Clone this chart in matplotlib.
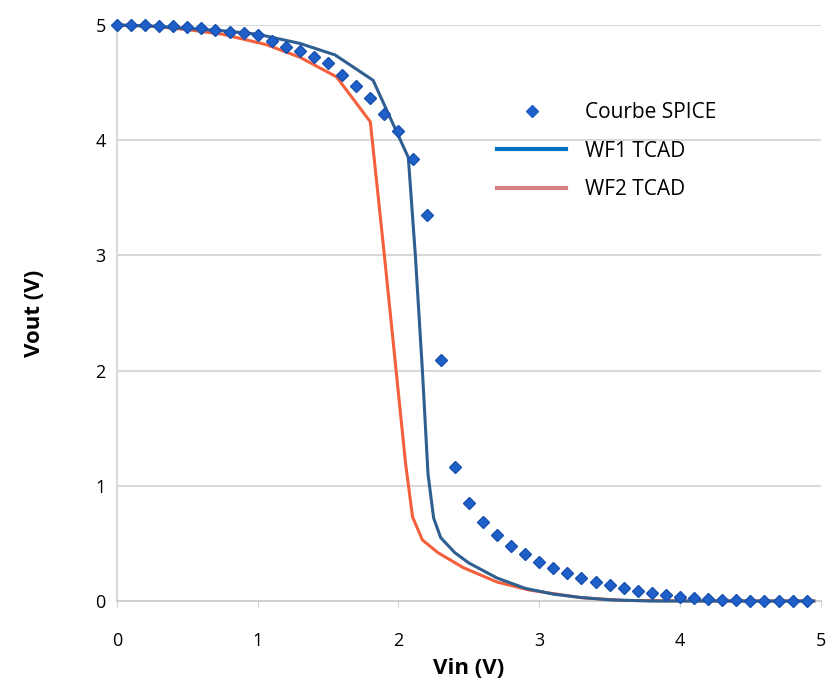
import numpy as np
import matplotlib
matplotlib.use('Agg')
import matplotlib.pyplot as plt

plt.rcParams['font.family'] = ['Open Sans', 'DejaVu Sans']

# SPICE curve: one point every 0.1 V
spice_vin = np.round(np.arange(0, 5.0, 0.1), 2)
spice_vout = [5.00, 5.00, 5.00, 4.99, 4.99, 4.98, 4.97, 4.96, 4.94, 4.93,
              4.91, 4.86, 4.81, 4.77, 4.72, 4.67, 4.57, 4.47, 4.37, 4.23,
              4.08, 3.84, 3.35, 2.09, 1.16, 0.85, 0.69, 0.57, 0.48, 0.41,
              0.34, 0.29, 0.24, 0.20, 0.165, 0.14, 0.11, 0.09, 0.07, 0.05,
              0.035, 0.025, 0.015, 0.01, 0.005, 0.0, 0.0, 0.0, 0.0, 0.0]

# WF1 TCAD
wf1_vin = [0, 0.25, 0.5, 0.75, 1.0, 1.3, 1.55, 1.82, 2.07, 2.12, 2.17, 2.21,
           2.25, 2.3, 2.4, 2.5, 2.7, 2.9, 3.1, 3.3, 3.5, 3.8, 4.2, 4.95]
wf1_vout = [5.0, 4.99, 4.97, 4.95, 4.92, 4.84, 4.74, 4.52, 3.85, 3.0, 2.0, 1.1,
            0.72, 0.55, 0.42, 0.33, 0.2, 0.11, 0.06, 0.03, 0.01, 0.0, 0.0, 0.0]

# WF2 TCAD
wf2_vin = [0, 0.25, 0.5, 0.75, 1.06, 1.3, 1.56, 1.80, 1.9, 1.99, 2.05, 2.10,
           2.17, 2.28, 2.46, 2.7, 2.93, 3.29, 3.6, 4.2, 4.95]
wf2_vout = [5.0, 4.99, 4.96, 4.92, 4.83, 4.72, 4.55, 4.16, 3.0, 1.92, 1.2, 0.73,
            0.53, 0.42, 0.29, 0.165, 0.095, 0.03, 0.005, 0.0, 0.0]

fig = plt.figure(figsize=(8.35, 6.85), dpi=100)
ax = fig.add_axes([0.140, 0.1226, 0.843, 0.8409])

ax.plot(wf2_vin, wf2_vout, color='#F5603C', lw=2.2, clip_on=False, zorder=3)
ax.plot(wf1_vin, wf1_vout, color='#2E5F90', lw=2.2, clip_on=False, zorder=4)
ax.plot(spice_vin, spice_vout, ls='none', marker='D', ms=6, color='#1F5FC8',
        mec='#1850B0', clip_on=False, zorder=5)

ax.set_xlim(0, 5)
ax.set_ylim(0, 5)
ax.set_xticks(range(6))
ax.set_yticks(range(6))
ax.grid(axis='y', color='#D9D9D9', lw=1.5)
ax.set_axisbelow(True)
for s in ['top', 'right']:
    ax.spines[s].set_visible(False)
ax.spines['left'].set_color('#D9D9D9')
ax.spines['bottom'].set_color('#D0D0D0')
ax.spines['left'].set_linewidth(1.5)
ax.spines['bottom'].set_linewidth(1.5)
ax.tick_params(axis='x', length=4, color='#D0D0D0', pad=18, labelsize=13)
ax.tick_params(axis='y', length=0, pad=8, labelsize=13)

ax.set_xlabel('Vin (V)', fontsize=16, fontweight='bold', labelpad=6)
ax.set_ylabel('Vout (V)', fontsize=16, fontweight='bold', labelpad=36)

# legend handles
h1, = ax.plot([], [], ls='none', marker='D', ms=6, color='#1F5FC8')
h2, = ax.plot([], [], color='#0070C0', lw=3)
h3, = ax.plot([], [], color='#D98080', lw=3)
ax.legend([h1, h2, h3], ['Courbe SPICE', 'WF1 TCAD', 'WF2 TCAD'],
          loc='upper left', bbox_to_anchor=(0.514, 0.899), frameon=False,
          fontsize=15, handlelength=3.3, handletextpad=0.9, labelspacing=0.85)

fig.savefig('out.png', dpi=100)
